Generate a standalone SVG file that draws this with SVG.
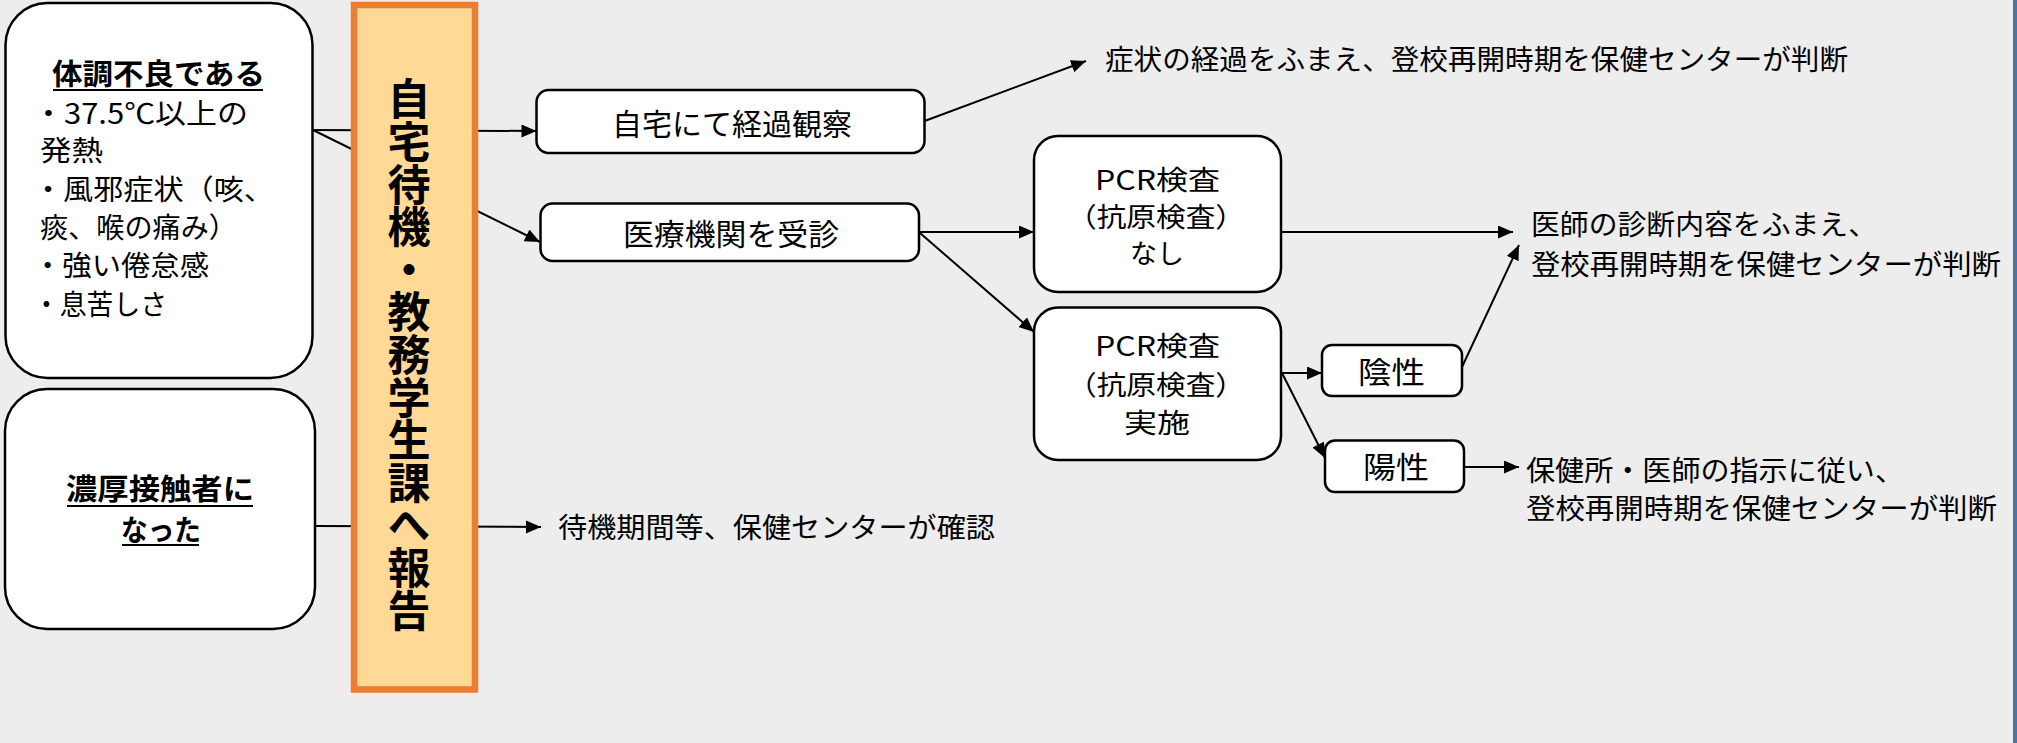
<svg xmlns="http://www.w3.org/2000/svg" width="2017" height="743" viewBox="0 0 2017 743">
<style>
.bx{fill:#fff;stroke:#000;stroke-width:2.5}
.t{font-family:"Noto Sans CJK JP","Noto Sans",sans-serif;fill:#000}
.r{font-size:28px}
.m{font-size:30px}
.p{font-size:27px}
.b{font-weight:bold}
.vt{font-family:"Noto Sans CJK JP","Noto Sans",sans-serif;font-size:43px;font-weight:bold;fill:#000;writing-mode:vertical-rl;letter-spacing:-0.4px}
.ln{stroke:#000;stroke-width:2;fill:none}
.ar{marker-end:url(#ah)}
.ul{stroke:#000;stroke-width:2}
</style>
<defs>
<marker id="ah" markerUnits="userSpaceOnUse" markerWidth="16" markerHeight="14" refX="15" refY="6.5" orient="auto">
<path d="M0,0 L15,6.5 L0,13 Z" fill="#000"/>
</marker>
</defs>
<rect x="0" y="0" width="2017" height="743" fill="#EDEDED"/>
<rect x="2013" y="0" width="4" height="743" fill="#4A72A2"/>

<g id="connectors">
<line class="ln ar" x1="313" y1="130" x2="536.5" y2="131"/>
<line class="ln ar" x1="313" y1="130" x2="540" y2="242"/>
<line class="ln ar" x1="316" y1="526" x2="541" y2="527"/>
<line class="ln ar" x1="924.6" y1="121" x2="1086" y2="61"/>
<line class="ln ar" x1="919" y1="232" x2="1034" y2="232"/>
<line class="ln ar" x1="920" y1="233" x2="1034" y2="332"/>
<line class="ln ar" x1="1281" y1="232" x2="1513" y2="232"/>
<line class="ln ar" x1="1281" y1="373" x2="1322" y2="373"/>
<line class="ln ar" x1="1282" y1="373" x2="1325" y2="458"/>
<line class="ln ar" x1="1462" y1="367" x2="1519" y2="245"/>
<line class="ln ar" x1="1464" y1="467" x2="1519" y2="467"/>
</g>

<g id="node-symptoms">
<rect class="bx" x="5.5" y="3" width="307" height="375" rx="42"/>
<text class="t m b" x="52" y="85" textLength="213" lengthAdjust="spacingAndGlyphs" style="font-size:29px">体調不良である</text>
<line class="ul" x1="53" y1="90" x2="263" y2="90"/>
<text class="t r" x="33" y="124" textLength="215" lengthAdjust="spacingAndGlyphs">・37.5℃以上の</text>
<text class="t r" x="40" y="161" textLength="63" lengthAdjust="spacingAndGlyphs">発熱</text>
<text class="t r" x="33" y="200" textLength="241" lengthAdjust="spacingAndGlyphs">・風邪症状（咳、</text>
<text class="t r" x="40" y="238" textLength="197" lengthAdjust="spacingAndGlyphs">痰、喉の痛み）</text>
<text class="t r" x="33" y="276" textLength="176" lengthAdjust="spacingAndGlyphs">・強い倦怠感</text>
<text class="t r" x="33" y="315" textLength="134" lengthAdjust="spacingAndGlyphs">・息苦しさ</text>
</g>

<g id="node-contact">
<rect class="bx" x="5" y="389" width="310" height="240" rx="42"/>
<text class="t b" x="66" y="500" textLength="188" lengthAdjust="spacingAndGlyphs" style="font-size:29px">濃厚接触者に</text>
<line class="ul" x1="67" y1="506" x2="253" y2="506"/>
<text class="t b" x="121" y="541" textLength="80" lengthAdjust="spacingAndGlyphs" style="font-size:29px">なった</text>
<line class="ul" x1="122" y1="545" x2="199" y2="545"/>
</g>

<g id="node-report">
<rect x="354" y="5" width="121" height="684.5" fill="#FFD995" stroke="#ED7D31" stroke-width="6.5"/>
<text class="vt" x="409" y="77.5">自宅待機・教務学生課へ報告</text>
</g>

<g id="node-home">
<rect class="bx" x="536.5" y="90" width="388" height="63" rx="12"/>
<text class="t m" x="612" y="135" textLength="240" lengthAdjust="spacingAndGlyphs">自宅にて経過観察</text>
</g>

<g id="node-medical">
<rect class="bx" x="540.5" y="203.5" width="378.5" height="57.5" rx="12"/>
<text class="t m" x="623" y="245" textLength="216" lengthAdjust="spacingAndGlyphs">医療機関を受診</text>
</g>

<g id="node-pcr-none">
<rect class="bx" x="1034" y="136" width="247" height="156" rx="24"/>
<text class="t p" x="1095" y="190" textLength="125" lengthAdjust="spacingAndGlyphs">PCR検査</text>
<text class="t p" x="1067" y="227" textLength="178" lengthAdjust="spacingAndGlyphs">（抗原検査）</text>
<text class="t" x="1130" y="263" textLength="54" lengthAdjust="spacingAndGlyphs" style="font-size:26px">なし</text>
</g>

<g id="node-pcr-done">
<rect class="bx" x="1034" y="307.5" width="247" height="152.5" rx="24"/>
<text class="t p" x="1095" y="356" textLength="125" lengthAdjust="spacingAndGlyphs">PCR検査</text>
<text class="t p" x="1067" y="395" textLength="178" lengthAdjust="spacingAndGlyphs">（抗原検査）</text>
<text class="t p" x="1124" y="433" textLength="66" lengthAdjust="spacingAndGlyphs">実施</text>
</g>

<g id="node-negative">
<rect class="bx" x="1322" y="345" width="140" height="51" rx="10"/>
<text class="t m" x="1358" y="383" textLength="67" lengthAdjust="spacingAndGlyphs">陰性</text>
</g>

<g id="node-positive">
<rect class="bx" x="1325" y="440.5" width="139" height="51.5" rx="10"/>
<text class="t m" x="1363" y="478" textLength="66" lengthAdjust="spacingAndGlyphs">陽性</text>
</g>

<g id="label-home-result">
<text class="t r" x="1105" y="70" textLength="743" lengthAdjust="spacingAndGlyphs">症状の経過をふまえ、登校再開時期を保健センターが判断</text>
</g>
<g id="label-doctor-result">
<text class="t r" x="1531" y="235" textLength="346" lengthAdjust="spacingAndGlyphs">医師の診断内容をふまえ、</text>
<text class="t r" x="1531" y="275" textLength="470" lengthAdjust="spacingAndGlyphs">登校再開時期を保健センターが判断</text>
</g>
<g id="label-positive-result">
<text class="t r" x="1526" y="481" textLength="378" lengthAdjust="spacingAndGlyphs">保健所・医師の指示に従い、</text>
<text class="t r" x="1526" y="519" textLength="471" lengthAdjust="spacingAndGlyphs">登校再開時期を保健センターが判断</text>
</g>
<g id="label-contact-result">
<text class="t r" x="558" y="538" textLength="437" lengthAdjust="spacingAndGlyphs">待機期間等、保健センターが確認</text>
</g>
</svg>
